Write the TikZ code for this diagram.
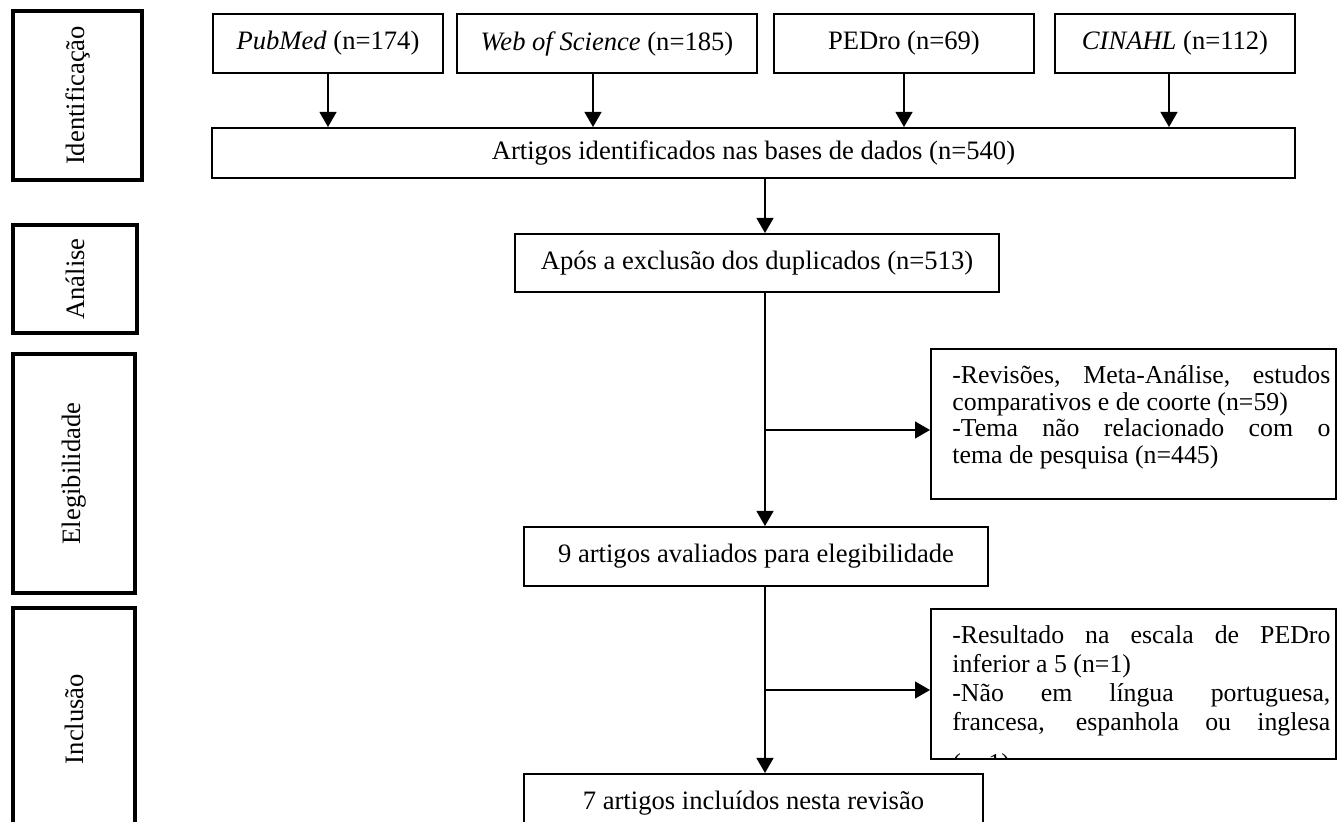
\documentclass[tikz,border=0pt]{standalone}
\usepackage{fontspec}
\setmainfont{Liberation Serif}
\usetikzlibrary{arrows.meta,positioning}
\hyphenpenalty=10000
\exhyphenpenalty=10000

\begin{document}
\begin{tikzpicture}[
    x=0.5pt, y=-0.5pt,
    every node/.style={font=\fontsize{13.3}{16}\selectfont, inner sep=0pt},
    box/.style={draw, line width=1pt, anchor=north west, minimum height=29.5pt},
    stage/.style={draw, line width=2pt, rotate=90},
    exbox/.style={draw, line width=1pt, anchor=north west, minimum width=202.5pt, minimum height=75pt},
    extext/.style={anchor=north west, text width=189pt, align=justify},
    arr/.style={-{Triangle[length=7.5pt, width=8.5pt]}, line width=0.6pt}
]
    \useasboundingbox (0,0) rectangle (1341,822);

    % Stage labels
    \node[stage, minimum width=84.5pt, minimum height=64.5pt] (ident) at (77.5,95.5) {Identificação};
    \node[stage, minimum width=54pt, minimum height=62pt] (anal) at (75,279) {Análise};
    \node[stage, minimum width=119.5pt, minimum height=61pt] (eleg) at (74,473.5) {Elegibilidade};
    \node[stage, minimum width=111pt, minimum height=61pt] (inclu) at (74,719) {Inclusão};

    % Databases
    \node[box, minimum width=115pt] (pubmed) at (212,13) {\textit{PubMed} (n=174)};
    \node[box, minimum width=150pt] (wos) at (456,13) {\textit{Web of Science} (n=185)};
    \node[box, minimum width=130pt] (pedro) at (773,13) {PEDro (n=69)};
    \node[box, minimum width=120pt] (cinahl) at (1054,13) {\textit{CINAHL} (n=112)};

    % Main flow
    \node[box, minimum width=541.5pt, minimum height=25pt] (all) at (211,127) {Artigos identificados nas bases de dados (n=540)};
    \node[box, minimum width=242pt, minimum height=29pt] (apos) at (514,233) {Após a exclusão dos duplicados (n=513)};
    \node[box, minimum width=232pt] (elig) at (523,526) {9 artigos avaliados para elegibilidade};
    \node[box, minimum width=229.5pt, minimum height=29pt] (incl) at (523,773) {7 artigos incluídos nesta revisão};

    % Exclusions
    \node[exbox] (excl1) at (930,348) {};
    \node[exbox] (excl2) at (930,608) {};
    \node[extext, font=\fontsize{12.9}{13.35}\selectfont] (excl1txt) at ([xshift=11pt, yshift=-5.5pt]excl1.north west)
        {\noindent\rule{0pt}{12pt}-Revisões, Meta-Análise, estudos\linebreak comparativos e de coorte (n=59)\\
         -Tema não relacionado com o\linebreak tema de pesquisa (n=445)};
    \begin{scope}
        \clip (excl2.north west) rectangle (excl2.south east);
        \node[extext, font=\fontsize{12.9}{14.5}\selectfont] (excl2txt) at ([xshift=11pt, yshift=-5.5pt]excl2.north west)
            {\noindent\rule{0pt}{12pt}-Resultado na escala de PEDro\linebreak inferior a 5 (n=1)\\
             -Não em língua portuguesa,\linebreak francesa, espanhola ou inglesa\vspace{6pt}\linebreak (n=1)};
    \end{scope}

    % Arrows
    \draw[arr] (pubmed.south) -- (pubmed.south |- all.north);
    \draw[arr] ([xshift=-7pt]wos.south) -- ([xshift=-7pt]wos.south |- all.north);
    \draw[arr] (pedro.south) -- (pedro.south |- all.north);
    \draw[arr] ([xshift=-3pt]cinahl.south) -- ([xshift=-3pt]cinahl.south |- all.north);

    \coordinate (spine) at (765,0);
    \draw[arr] (all.south -| spine) -- (apos.north -| spine);
    \draw[arr] (apos.south -| spine) -- (elig.north -| spine);
    \draw[arr] (elig.south -| spine) -- (incl.north -| spine);

    \coordinate (b1) at (765,430);
    \coordinate (b2) at (765,690);
    \draw[arr] (b1) -- (b1 -| excl1.west);
    \draw[arr] (b2) -- (b2 -| excl2.west);
\end{tikzpicture}
\end{document}
